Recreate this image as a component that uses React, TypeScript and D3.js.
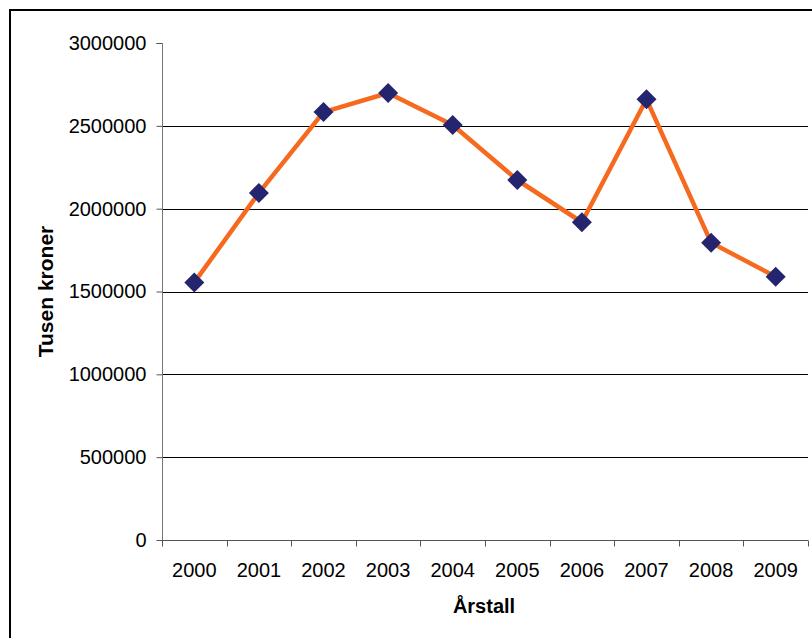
import { useEffect, useRef } from "react";
import * as d3 from "d3";

const YEARS = ["2000", "2001", "2002", "2003", "2004", "2005", "2006", "2007", "2008", "2009"];
const VALUES = [1555000, 2095000, 2583000, 2698000, 2505000, 2173000, 1918000, 2660000, 1795000, 1589000];
const Y_TICKS = [0, 500000, 1000000, 1500000, 2000000, 2500000, 3000000];
const Y_LABEL = "Tusen kroner";
const X_LABEL = "Årstall";

const W = 812;
const H = 638;
const FONT = "'Liberation Sans', Arial, sans-serif";

export default function App() {
  const svgRef = useRef<SVGSVGElement>(null);

  useEffect(() => {
    const svg = d3.select(svgRef.current);
    svg.selectAll("*").remove();
    const margin = { top: 43, right: 4, bottom: 98, left: 162 };
    const iw = W - margin.left - margin.right;
    const ih = H - margin.top - margin.bottom;

    const x = d3.scaleBand().domain(YEARS).range([0, iw]);
    const y = d3.scaleLinear().domain([0, 3000000]).range([ih, 0]);

    // outer frame (only top/left visible in the crop)
    svg
      .append("rect")
      .attr("x", 10)
      .attr("y", 10)
      .attr("width", W + 20)
      .attr("height", H + 20)
      .attr("fill", "white")
      .attr("stroke", "#000")
      .attr("stroke-width", 2);

    const g = svg.append("g").attr("transform", `translate(${margin.left},${margin.top})`);

    // gridlines
    g.selectAll("line.grid")
      .data(Y_TICKS.filter((t) => t > 0 && t < 3000000))
      .join("line")
      .attr("class", "grid")
      .attr("x1", 0)
      .attr("x2", iw)
      .attr("y1", (d) => Math.round(y(d)) + 0.5)
      .attr("y2", (d) => Math.round(y(d)) + 0.5)
      .attr("stroke", "#000")
      .attr("stroke-width", 1);

    // y axis
    const yAxis = g
      .append("g")
      .attr("transform", "translate(0.5,0)")
      .call(d3.axisLeft(y).tickValues(Y_TICKS).tickSize(6).tickPadding(10).tickFormat((d) => String(d)));
    yAxis.select(".domain").attr("stroke", "#777").attr("d", `M-6,${y(3000000) + 0.5}H0V${ih}`);
    yAxis.selectAll(".tick line").attr("stroke", "#555");
    yAxis
      .selectAll("text")
      .attr("font-family", FONT)
      .attr("font-size", 20)
      .attr("fill", "#000");

    // x axis
    const xAxis = g.append("g").attr("transform", `translate(0,${ih + 0.5})`);
    xAxis
      .append("line")
      .attr("x1", 0)
      .attr("x2", iw)
      .attr("stroke", "#555");
    xAxis
      .selectAll("line.tk")
      .data([...YEARS.map((d) => x(d)!), iw])
      .join("line")
      .attr("class", "tk")
      .attr("x1", (d) => Math.round(d) + 0.5)
      .attr("x2", (d) => Math.round(d) + 0.5)
      .attr("y1", 0)
      .attr("y2", 6)
      .attr("stroke", "#555");
    xAxis
      .selectAll("text")
      .data(YEARS)
      .join("text")
      .attr("x", (d) => x(d)! + x.bandwidth() / 2)
      .attr("y", 36.5)
      .attr("text-anchor", "middle")
      .attr("font-family", FONT)
      .attr("font-size", 20)
      .attr("fill", "#000")
      .text((d) => d);

    // line
    const cx = (_: number, i: number) => x(YEARS[i])! + x.bandwidth() / 2;
    const line = d3
      .line<number>()
      .x((d, i) => cx(d, i))
      .y((d) => y(d));
    g.append("path")
      .datum(VALUES)
      .attr("d", line)
      .attr("fill", "none")
      .attr("stroke", "#F56A1E")
      .attr("stroke-width", 4.5)
      .attr("stroke-linejoin", "round");

    // diamond markers
    const diamond = d3.symbol().type(d3.symbolSquare).size(200);
    g.selectAll("path.mk")
      .data(VALUES)
      .join("path")
      .attr("class", "mk")
      .attr("d", diamond)
      .attr("transform", (d, i) => `translate(${cx(d, i)},${y(d)}) rotate(45)`)
      .attr("fill", "#24246F");

    // axis titles
    svg
      .append("text")
      .attr("transform", `translate(53,${margin.top + ih / 2}) rotate(-90)`)
      .attr("text-anchor", "middle")
      .attr("font-family", FONT)
      .attr("font-weight", "bold")
      .attr("font-size", 21)
      .text(Y_LABEL);
    svg
      .append("text")
      .attr("x", 484)
      .attr("y", 613)
      .attr("text-anchor", "middle")
      .attr("font-family", FONT)
      .attr("font-weight", "bold")
      .attr("font-size", 20)
      .text(X_LABEL);
  }, []);

  return (
    <div style={{ position: "absolute", left: 0, top: 0 }}>
      <svg ref={svgRef} width={W} height={H} style={{ display: "block", background: "#fff" }} />
    </div>
  );
}
